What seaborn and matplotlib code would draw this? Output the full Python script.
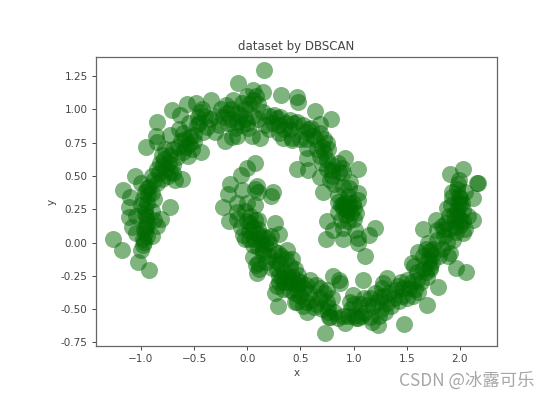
import matplotlib
matplotlib.use('Agg')
import matplotlib.pyplot as plt
import pandas as pd
import seaborn as sns

# values, (x, y)
upper_left = [
    (-1.26, 0.024), (-1.181, -0.056), (-1.0, -0.056), (-1.025, -0.149), (-0.922, -0.206),
    (-1.113, 0.269), (-1.113, 0.194), (-1.088, 0.119), (-0.812, 0.174), (-0.852, 0.124),
    (-0.727, 0.264), (-0.962, 0.219), (-0.953, 0.169), (-0.953, 0.119), (-0.962, 0.071),
    (-0.968, 0.006), (-0.95, 0.2), (-0.94, 0.14), (-0.97, 0.1), (-0.945, 0.05), (-0.96, 0.25),
    (-0.98, 0.03), (-1.0, 0.28), (-0.9, 0.24), (-1.169, 0.394), (-1.056, 0.5), (-1.1, 0.34),
    (-0.946, 0.407), (-0.931, 0.357), (-0.96, 0.38), (-0.92, 0.42), (-0.98, 0.33), (-0.9, 0.37),
    (-0.88, 0.33), (-1.0, 0.45), (-0.94, 0.3), (-0.611, 0.477), (-0.68, 0.47), (-0.79, 0.582),
    (-0.82, 0.6), (-0.76, 0.55), (-0.85, 0.55), (-0.727, 0.657), (-0.78, 0.63), (-0.74, 0.6),
    (-0.83, 0.52), (-0.9, 0.5), (-0.7, 0.58), (-0.66, 0.64), (-0.8, 0.66),
    (-0.953, 0.717), (-0.852, 0.752), (-0.862, 0.8), (-0.852, 0.907), (-0.727, 0.807),
    (-0.705, 0.995), (-0.633, 0.957), (-0.564, 1.037), (-0.483, 1.047), (-0.344, 1.07),
    (-0.98, -0.02), (-1.05, 0.2), (-1.05, 0.07), (-0.9, 0.05), (-0.88, 0.17),
    (-0.88, 0.47), (-0.85, 0.45), (-0.8, 0.48), (-0.75, 0.5), (-0.73, 0.53), (-0.7, 0.52),
    (-0.77, 0.7), (-0.7, 0.7), (-0.65, 0.72), (-0.6, 0.68), (-0.56, 0.65), (-0.52, 0.7),
]
upper_top = [
    (-0.436, 0.682), (-0.539, 0.794), (-0.59, 0.78), (-0.5, 0.81), (-0.62, 0.76), (-0.55, 0.74),
    (-0.5, 0.76), (-0.58, 0.72), (-0.64, 0.85), (-0.6, 0.82), (-0.445, 0.982), (-0.46, 0.94),
    (-0.43, 1.0), (-0.47, 0.88), (-0.382, 0.869), (-0.304, 0.832), (-0.27, 0.88), (-0.42, 0.83),
    (-0.21, 0.762), (-0.194, 0.97), (-0.1, 0.907), (-0.15, 0.93), (-0.07, 0.96), (-0.18, 0.9),
    (-0.12, 0.86), (-0.05, 0.88), (-0.23, 0.94), (-0.1, 0.97), (-0.147, 0.794), (0.009, 0.857),
    (-0.132, 1.07), (-0.09, 1.2), (0.157, 1.295), (0.056, 1.07), (0.051, 1.145), (0.145, 1.128),
    (0.02, 1.04), (0.08, 1.1), (0.1, 1.04), (-0.02, 1.0), (0.119, 0.782), (0.04, 0.8), (0.167, 0.882),
    (0.2, 0.85), (0.277, 0.932), (0.24, 0.9), (0.31, 0.94), (0.402, 0.92), (0.36, 0.9), (0.44, 0.9),
    (0.314, 1.107), (0.465, 1.095), (0.48, 1.057), (0.339, 0.782), (0.418, 0.77),
    (0.3, 0.82), (0.25, 0.96),
    (-0.55, 0.9), (-0.45, 0.9), (-0.4, 0.95), (-0.35, 0.93), (-0.3, 0.95), (-0.25, 1.0), (-0.2, 1.03),
    (-0.15, 1.0), (-0.05, 1.05), (0.0, 1.1), (0.05, 0.95), (0.1, 0.93), (0.15, 0.98), (0.2, 0.95),
    (0.3, 0.88), (0.35, 0.85), (0.4, 0.85), (-0.02, 0.93), (0.0, 0.9), (-0.1, 0.8),
]
upper_right = [
    (0.465, 0.907), (0.52, 0.88), (0.574, 0.852), (0.55, 0.83), (0.6, 0.86), (0.637, 0.987),
    (0.784, 0.927), (0.684, 0.887), (0.418, 0.784), (0.559, 0.707), (0.559, 0.632), (0.465, 0.552),
    (0.574, 0.544), (0.747, 0.745), (0.7, 0.72), (0.66, 0.7), (0.72, 0.68), (0.76, 0.7), (0.68, 0.65),
    (0.747, 0.619), (0.919, 0.637), (1.044, 0.55), (0.888, 0.557), (0.86, 0.53), (0.794, 0.544),
    (0.9, 0.52), (0.684, 0.494), (0.778, 0.469), (0.8, 0.5), (0.715, 0.381), (0.966, 0.456), (0.96, 0.407),
    (1.044, 0.369), (1.044, 0.319), (0.99, 0.3), (0.856, 0.306), (0.9, 0.29), (0.935, 0.244), (0.9, 0.26),
    (0.96, 0.27), (0.93, 0.21), (0.88, 0.28), (0.98, 0.22), (0.96, 0.3), (1.0, 0.26),
    (0.74, 0.024), (0.747, 0.164), (0.897, 0.024), (0.81, 0.094), (0.904, 0.107), (1.013, 0.094),
    (1.044, 0.031), (1.044, -0.001), (1.107, -0.101), (1.148, 0.056), (1.201, 0.107),
    (0.5, 0.78), (0.55, 0.78), (0.62, 0.8), (0.65, 0.78), (0.68, 0.82), (0.72, 0.78), (0.7, 0.6),
    (0.75, 0.55), (0.8, 0.58), (0.85, 0.6), (0.82, 0.44), (0.9, 0.42), (0.95, 0.35), (0.85, 0.23),
    (1.0, 0.18), (0.95, 0.16), (0.88, 0.17), (1.02, 0.22), (0.92, 0.3), (0.85, 0.36),
]
lower_left = [
    (0.072, 0.595), (-0.006, 0.557), (-0.062, 0.507), (-0.163, 0.437), (-0.179, 0.362),
    (-0.053, 0.394), (0.088, 0.426), (0.07, 0.4), (0.1, 0.38), (0.239, 0.381), (0.22, 0.35), (-0.231, 0.269),
    (-0.169, 0.164), (-0.1, 0.231), (-0.02, 0.24), (0.07, 0.28), (0.0, 0.3), (-0.038, 0.056), (-0.06, 0.12),
    (0.025, 0.144), (0.02, 0.09), (0.05, 0.12), (0.088, 0.069), (0.06, 0.03), (0.1, 0.1), (0.12, 0.04),
    (0.182, 0.031), (0.15, 0.05), (0.2, 0.0), (0.26, 0.144), (0.301, 0.062), (0.0, 0.16), (0.03, 0.2),
    (0.056, -0.106), (0.088, -0.231), (0.103, -0.156), (0.08, -0.17), (0.11, -0.2), (0.151, -0.056),
    (0.289, -0.08), (0.371, -0.056), (0.25, -0.06), (0.32, -0.1), (0.23, -0.192), (0.27, -0.14), (0.324, -0.267),
    (0.35, -0.22), (0.38, -0.25), (0.4, -0.18), (0.26, -0.38), (0.28, -0.33), (0.3, -0.3), (0.292, -0.477),
    (0.449, -0.444), (0.433, -0.307), (0.38, -0.3), (0.42, -0.25), (0.45, -0.2),
    (-0.02, 0.03), (0.05, -0.02), (0.1, -0.03), (0.13, 0.0), (0.17, -0.02), (0.22, 0.05), (0.07, 0.17),
    (0.02, 0.03), (-0.1, 0.18), (0.1, 0.17), (-0.1, 0.3), (0.15, -0.08), (0.2, -0.1), (0.18, -0.15),
    (0.28, -0.2), (0.31, -0.16), (0.36, -0.12), (0.42, -0.12), (0.3, -0.25), (0.35, -0.3), (0.34, -0.35),
    (0.4, -0.36),
]
lower_mid = [
    (0.48, -0.244), (0.5, -0.3), (0.465, -0.444), (0.47, -0.36), (0.44, -0.38), (0.5, -0.4), (0.53, -0.34),
    (0.48, -0.32), (0.559, -0.52), (0.627, -0.487), (0.65, -0.46), (0.59, -0.282), (0.684, -0.344), (0.65, -0.32),
    (0.731, -0.677), (0.81, -0.249), (0.872, -0.302), (0.86, -0.28), (0.762, -0.482), (0.771, -0.557),
    (0.76, -0.52), (0.75, -0.45), (0.78, -0.56), (0.919, -0.607), (1.086, -0.282), (0.997, -0.394), (0.966, -0.444),
    (0.98, -0.5), (1.0, -0.55), (1.02, -0.57), (1.044, -0.569), (1.07, -0.55), (1.06, -0.46), (1.1, -0.42), (1.17, -0.594),
    (1.15, -0.56), (1.232, -0.619), (1.28, -0.307), (1.311, -0.269), (1.27, -0.34), (1.248, -0.407), (1.311, -0.457),
    (1.2, -0.38), (1.22, -0.45), (1.26, -0.5), (1.33, -0.38), (1.29, -0.4), (1.18, -0.48),
    (0.47, -0.28), (0.55, -0.32), (0.58, -0.38), (0.6, -0.43), (0.55, -0.45), (0.52, -0.48), (0.68, -0.42),
    (0.72, -0.38), (0.75, -0.36), (0.8, -0.42), (0.7, -0.5), (0.82, -0.52), (0.85, -0.57), (0.9, -0.55),
    (0.95, -0.55), (1.0, -0.46), (1.1, -0.53), (1.13, -0.47), (1.15, -0.42), (1.24, -0.55), (1.3, -0.52),
    (1.35, -0.48), (1.38, -0.42),
]
lower_right = [
    (1.474, -0.614), (1.467, -0.344), (1.499, -0.282), (1.46, -0.4), (1.43, -0.44), (1.5, -0.42), (1.4, -0.36), (1.609, -0.369),
    (1.58, -0.35), (1.56, -0.4), (1.693, -0.472), (1.797, -0.336), (1.546, -0.156), (1.57, -0.18), (1.609, -0.069),
    (1.703, -0.006), (1.735, -0.094), (1.72, -0.06), (1.7, -0.12), (1.719, -0.182), (1.71, -0.14), (1.688, -0.257),
    (1.74, -0.15), (1.68, -0.22), (1.907, -0.081), (1.89, -0.1), (1.96, -0.189), (2.054, -0.224), (1.65, 0.101),
    (1.772, 0.169), (1.782, 0.094), (1.829, 0.124), (1.85, 0.1), (1.876, 0.006), (1.938, 0.019), (2.032, 0.069), (2.126, 0.169),
    (1.954, 0.169), (1.97, 0.244), (2.0, 0.131), (2.032, 0.244), (1.876, 0.257), (1.95, 0.12), (1.98, 0.2), (1.94, 0.21),
    (2.0, 0.18), (2.03, 0.16), (1.96, 0.08), (1.98, 0.3), (2.0, 0.29), (1.99, 0.35), (1.923, 0.381), (1.907, 0.512),
    (2.026, 0.55), (1.99, 0.469), (1.98, 0.44), (2.173, 0.449), (2.16, 0.45), (2.12, 0.334), (2.0, 0.332), (1.93, 0.34),
    (1.42, -0.33), (1.45, -0.3), (1.52, -0.34), (1.55, -0.3), (1.6, -0.28), (1.63, -0.3), (1.65, -0.2),
    (1.6, -0.22), (1.65, -0.1), (1.68, -0.05), (1.72, -0.2), (1.75, -0.05), (1.78, 0.02), (1.8, -0.1),
    (1.83, -0.05), (1.85, 0.05), (1.9, 0.1), (1.9, 0.2), (1.92, 0.28), (2.05, 0.1), (2.08, 0.2), (1.87, 0.15),
    (2.02, 0.3), (2.05, 0.38), (1.97, 0.4),
]
groups = [upper_left, upper_top, upper_right, lower_left, lower_mid, lower_right]
df = pd.DataFrame([p for g in groups for p in g], columns=['x', 'y'])

x_ticks = [-1.0, -0.5, 0.0, 0.5, 1.0, 1.5, 2.0]
y_ticks = [-0.75, -0.50, -0.25, 0.00, 0.25, 0.50, 0.75, 1.00, 1.25]

sns.set_style('ticks')
plt.rcParams['font.family'] = ['DejaVu Sans']

fig = plt.figure(figsize=(5.51, 3.99), dpi=100)
ax = fig.add_axes([96 / 551, 1 - 346 / 399, 401 / 551, 289 / 399])
sns.scatterplot(data=df, x='x', y='y', ax=ax, s=150, color='#006a00', alpha=0.5, linewidth=0)

ax.set_xlim(-1.423, 2.349)
ax.set_ylim(-0.777, 1.393)
ax.set_xticks(x_ticks)
ax.set_yticks(y_ticks)
ax.set_yticklabels([f'{t:.2f}' for t in y_ticks])
ax.tick_params(labelsize=7.5, colors='#444444', length=3, width=0.7, pad=3)
ax.set_xlabel('x', fontsize=7.5, color='#444444', labelpad=3)
ax.set_ylabel('y', fontsize=7.5, color='#444444', labelpad=3)
ax.set_title('dataset by DBSCAN', fontsize=8.5, color='#444444', pad=5)
for spine in ax.spines.values():
    spine.set_color('#666666')
    spine.set_linewidth(0.9)

# watermark
fig.text(399 / 551, 1 - 381 / 399, 'CSDN @冰露可乐', fontsize=12.5, color='#a6a6a6',
         family=['Noto Sans CJK SC', 'DejaVu Sans'], va='center', ha='left')

fig.savefig('out.png', dpi=100)
